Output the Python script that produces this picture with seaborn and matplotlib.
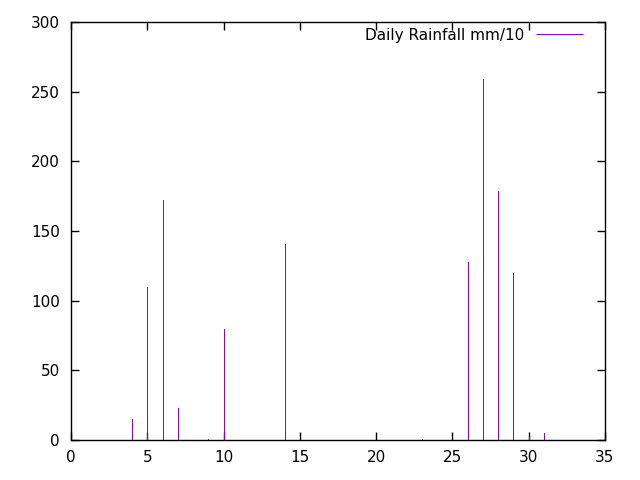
import matplotlib
matplotlib.use("Agg")
import matplotlib.pyplot as plt
import seaborn as sns

# Daily rainfall (mm/10) by day of month
days = [4, 5, 6, 7, 9, 10, 14, 23, 26, 27, 28, 29, 30, 31]
rainfall = [15, 110, 172, 23, 1, 80, 141, 1, 128, 259, 179, 120, 2, 5]

sns.set_style("ticks")
plt.rcParams["font.family"] = ["DejaVu Sans"]
plt.rcParams["text.color"] = "black"

fig, ax = plt.subplots(figsize=(6.4, 4.8), dpi=100)
fig.subplots_adjust(left=0.111, right=0.945, bottom=0.0833, top=0.954)

# gnuplot-style impulses
ax.vlines(days, 0, rainfall, color="#9400D3", linewidth=0.72, antialiased=False,
          label="Daily Rainfall mm/10")

ax.set_xlim(0, 35)
ax.set_ylim(0, 300)
ax.set_xticks(range(0, 36, 5))
ax.set_yticks(range(0, 301, 50))
ax.tick_params(direction="in", length=6, width=1, top=True, right=True,
               labelsize=11, colors="black")
ax.tick_params(axis="y", pad=8)
ax.tick_params(axis="x", pad=7)
for s in ax.spines.values():
    s.set_visible(True)
    s.set_linewidth(1)
    s.set_color("black")

ax.legend(loc="upper right", frameon=False, markerfirst=False, fontsize=11,
          handlelength=3.1, bbox_to_anchor=(0.98, 1.012), borderaxespad=0.3,
          labelcolor="black")

plt.savefig("out.png", dpi=100)
